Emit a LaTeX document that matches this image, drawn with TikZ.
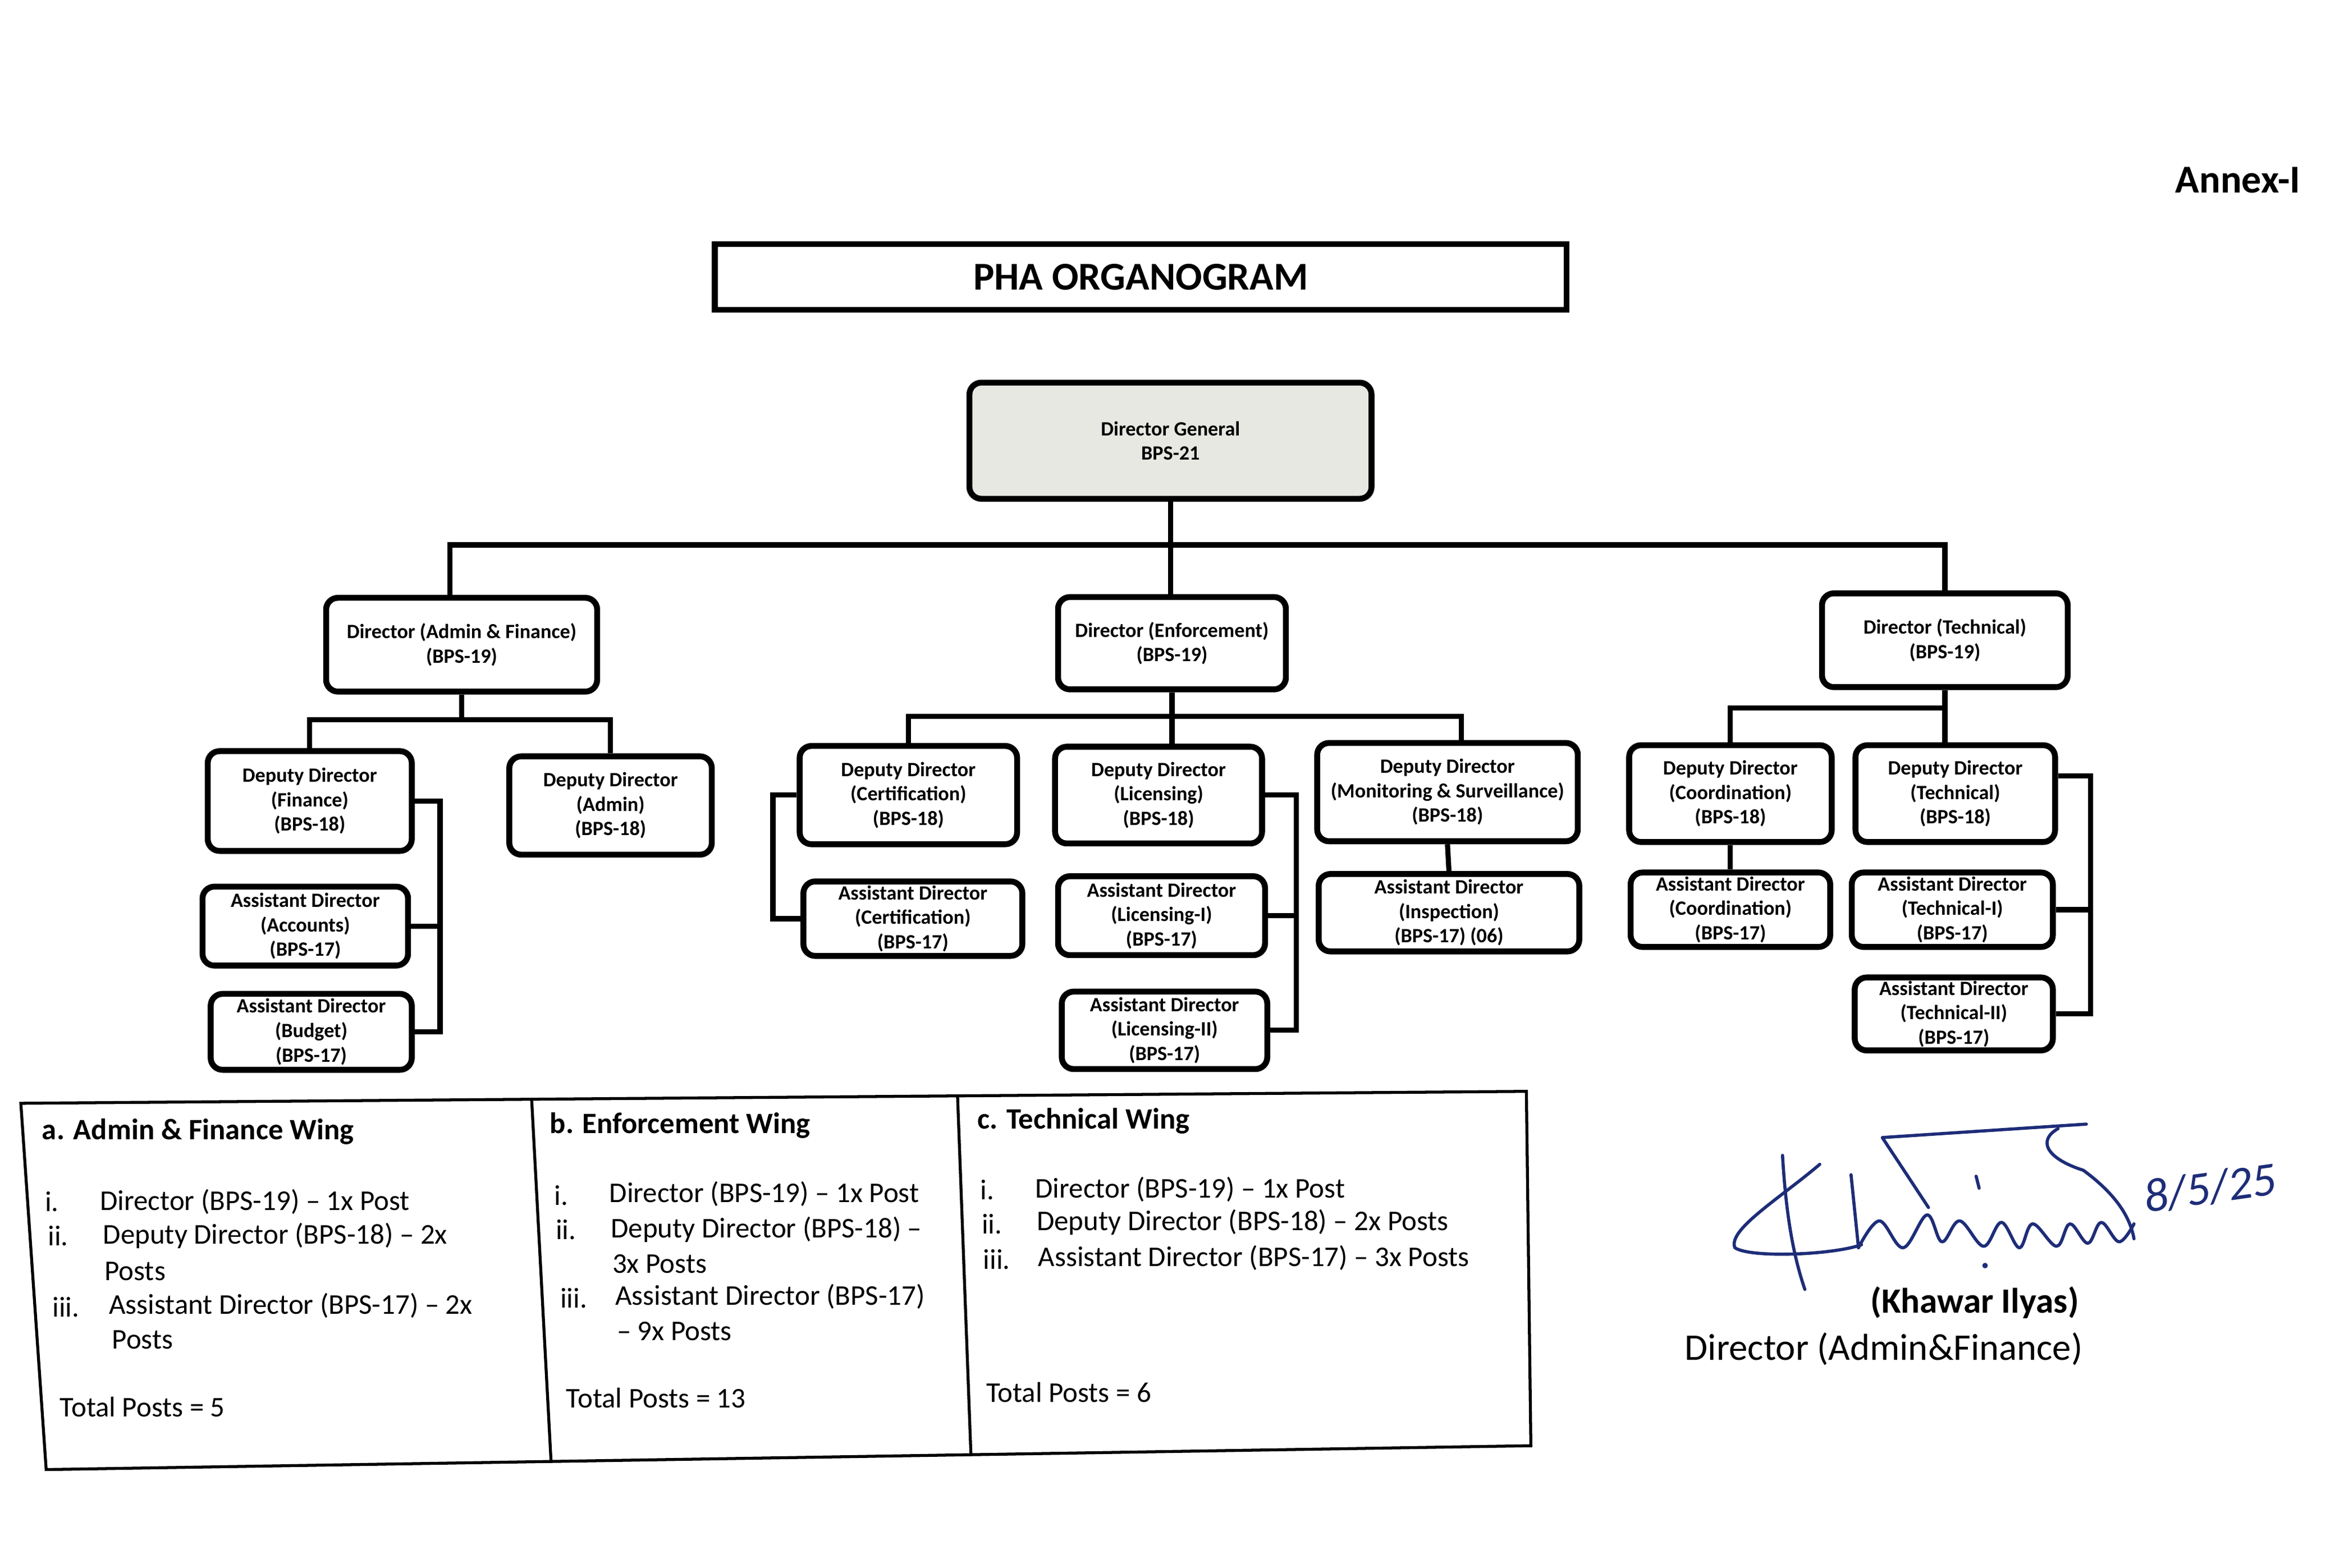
\documentclass[tikz,border=0pt]{standalone}
\usepackage{fontspec}
\setmainfont{Carlito}
\usepackage{tikz}
\definecolor{ink}{RGB}{30,45,120}
\definecolor{dgfill}{RGB}{231,232,226}

\begin{document}
\begin{tikzpicture}[x=0.02653cm,y=-0.02653cm]
\tikzset{post/.style 2 args = {draw, rounded corners=6pt, line width=3pt, align=center, inner sep=0pt,
  minimum width=#1*0.02653cm, minimum height=#2*0.02653cm, font=\fontsize{10.3}{12.4}\selectfont\bfseries}}
\tikzset{link/.style = {line width=2.6pt}}
\tikzset{item/.style = {anchor=west, inner sep=0pt, font=\fontsize{14.5}{17}\selectfont}}
\tikzset{wing/.style = {anchor=west, inner sep=0pt, font=\fontsize{15}{18}\selectfont\bfseries}}
\tikzset{sign/.style = {ink, line width=1.6pt, line cap=round, line join=round}}
\useasboundingbox (0,0) rectangle (1568,1053);

% heading
\node[draw, line width=3pt, minimum width=572*0.02653cm, minimum height=44*0.02653cm,
  font=\fontsize{20}{24}\selectfont\bfseries] (title) at (766,186) {PHA ORGANOGRAM};
\node[anchor=east, inner sep=0pt, font=\fontsize{20}{24}\selectfont\bfseries] (annex) at (1545,121) {Annex-I};

% posts
\node[post={270}{78}, fill=dgfill] (dg) at (786,296) {Director General\\BPS-21};
\node[post={182}{63}] (daf) at (310,433) {Director (Admin \& Finance)\\(BPS-19)};
\node[post={153}{62}] (denf) at (787,432) {Director (Enforcement)\\(BPS-19)};
\node[post={165}{63}] (dtech) at (1306,430) {Director (Technical)\\(BPS-19)};
\node[post={137}{67}] (ddfin) at (208,538) {Deputy Director\\(Finance)\\(BPS-18)};
\node[post={136}{66}] (ddadm) at (410,541) {Deputy Director\\(Admin)\\(BPS-18)};
\node[post={138}{53}] (adacc) at (205,622) {Assistant Director\\(Accounts)\\(BPS-17)};
\node[post={135}{51}] (adbud) at (209,693) {Assistant Director\\(Budget)\\(BPS-17)};
\node[post={146}{66}] (ddcert) at (610,534) {Deputy Director\\(Certification)\\(BPS-18)};
\node[post={139}{65}] (ddlic) at (778,534) {Deputy Director\\(Licensing)\\(BPS-18)};
\node[post={175}{66}] (ddms) at (972,532) {Deputy Director\\(Monitoring \& Surveillance)\\(BPS-18)};
\node[post={147}{50}] (adcert) at (613,617) {Assistant Director\\(Certification)\\(BPS-17)};
\node[post={139}{53}] (adlic1) at (780,615) {Assistant Director\\(Licensing-I)\\(BPS-17)};
\node[post={138}{52}] (adlic2) at (782,692) {Assistant Director\\(Licensing-II)\\(BPS-17)};
\node[post={175}{52}] (adinsp) at (973,613) {Assistant Director\\(Inspection)\\(BPS-17) (06)};
\node[post={136}{65}] (ddcoord) at (1162,533) {Deputy Director\\(Coordination)\\(BPS-18)};
\node[post={134}{65}] (ddtech) at (1313,533) {Deputy Director\\(Technical)\\(BPS-18)};
\node[post={134}{50}] (adcoord) at (1162,611) {Assistant Director\\(Coordination)\\(BPS-17)};
\node[post={135}{50}] (adtech1) at (1311,611) {Assistant Director\\(Technical-I)\\(BPS-17)};
\node[post={133}{49}] (adtech2) at (1312,681) {Assistant Director\\(Technical-II)\\(BPS-17)};

% main tree
\draw[link] (dg.south) -- ++(0,29) coordinate (hub);
\draw[link] ([xshift=-6pt]daf.north) |- (hub) -| (dtech.north);
\draw[link] (hub) -- (hub |- denf.north);
% admin & finance wing
\draw[link] (daf.south) -- ++(0,17) coordinate (j1);
\draw[link] (ddfin.north) |- (j1) -| (ddadm.north);
\draw[link] (ddfin.east) -- ++(17,0) coordinate (b1) |- (adbud.east);
\draw[link] (adacc.east) -- (adacc.east -| b1);
% enforcement wing
\draw[link] (denf.south) -- ++(0,16) coordinate (j2);
\draw[link] (ddcert.north) |- (j2) -| ([xshift=7pt]ddms.north);
\draw[link] (j2) -- (j2 |- ddlic.north);
\draw[link] (ddcert.west) -- ++(-16,0) |- (adcert.west);
\draw[link] (ddlic.east) -- ++(21,0) coordinate (b2) |- (adlic2.east);
\draw[link] (adlic1.east) -- (adlic1.east -| b2);
\draw[link] (ddms.south) -- (adinsp.north);
% technical wing
\draw[link] (dtech.south) -- ++(0,12) coordinate (j3);
\draw[link] (ddcoord.north) |- (j3);
\draw[link] (j3) -- (j3 |- ddtech.north);
\draw[link] (ddcoord.south) -- (adcoord.north);
\draw[link] ([yshift=9pt]ddtech.east) -- ++(22,0) coordinate (b3) |- (adtech2.east);
\draw[link] (adtech1.east) -- (adtech1.east -| b3);

% summary table
\draw[line width=1.5pt] (14,741) -- (1025,733) -- (1028,971) -- (31,987) -- cycle;
\draw[line width=1.5pt] (357,738) -- (370,981);
\draw[line width=1.5pt] (643,736) -- (652,977);

\node[wing] (wa) at (28,760) {a. Admin \& Finance Wing};
\node[item] (a1) at (30,807) {i.};
\node[item] (a1t) at (67,807) {Director (BPS-19) – 1x Post};
\node[item] (a2) at (32,830) {ii.};
\node[item] (a2t) at (69,830) {Deputy Director (BPS-18) – 2x};
\node[item] (a2u) at (70,854) {Posts};
\node[item] (a3) at (35,878) {iii.};
\node[item] (a3t) at (73,877) {Assistant Director (BPS-17) – 2x};
\node[item] (a3u) at (75,900) {Posts};
\node[item] (at) at (40,945) {Total Posts = 5};

\node[wing] (wb) at (369,756) {b. Enforcement Wing};
\node[item] (b1i) at (372,803) {i.};
\node[item] (b1t) at (409,802) {Director (BPS-19) – 1x Post};
\node[item] (b2i) at (373,826) {ii.};
\node[item] (b2t) at (410,826) {Deputy Director (BPS-18) –};
\node[item] (b2u) at (411,849) {3x Posts};
\node[item] (b3i) at (376,872) {iii.};
\node[item] (b3t) at (413,871) {Assistant Director (BPS-17)};
\node[item] (b3u) at (414,894) {– 9x Posts};
\node[item] (bt) at (380,939) {Total Posts = 13};

\node[wing] (wc) at (656,753) {c. Technical Wing};
\node[item] (c1) at (658,799) {i.};
\node[item] (c1t) at (695,799) {Director (BPS-19) – 1x Post};
\node[item] (c2) at (659,822) {ii.};
\node[item] (c2t) at (696,821) {Deputy Director (BPS-18) – 2x Posts};
\node[item] (c3) at (660,846) {iii.};
\node[item] (c3t) at (697,845) {Assistant Director (BPS-17) – 3x Posts};
\node[item] (ct) at (662,935) {Total Posts = 6};

% signature
\draw[sign] (1197,776) .. controls (1199,810) and (1203,840) .. (1212,866);
\draw[sign] (1222,782) .. controls (1195,805) and (1160,826) .. (1165,838)
  .. controls (1175,845) and (1230,843) .. (1250,836);
\draw[sign] (1243,789) -- (1248,838);
\draw[sign] plot[smooth, tension=0.6] coordinates {(1248,838) (1262,820) (1278,838) (1294,816) (1304,834)
  (1316,820) (1332,837) (1344,821) (1356,838) (1365,822) (1381,837) (1390,822) (1402,835)
  (1411,821) (1423,834) (1433,822)};
\draw[sign] (1295,811) -- (1264,764) -- (1401,755);
\draw[sign] (1382,758) .. controls (1368,766) and (1374,778) .. (1399,786)
  .. controls (1418,800) and (1430,815) .. (1433,832);
\draw[sign] (1327,790) -- (1329,798);
\fill[ink] (1333,850) circle (1.4pt);
\node[ink, rotate=8, inner sep=0pt, font=\fontsize{24}{28}\selectfont\itshape] (date) at (1484,798) {8/5/25};
\node[inner sep=0pt, font=\fontsize{18}{22}\selectfont\bfseries] (signame) at (1326,875) {(Khawar Ilyas)};
\node[inner sep=0pt, font=\fontsize{19}{23}\selectfont] (sigpost) at (1265,906) {Director (Admin\&Finance)};
\end{tikzpicture}
\end{document}
